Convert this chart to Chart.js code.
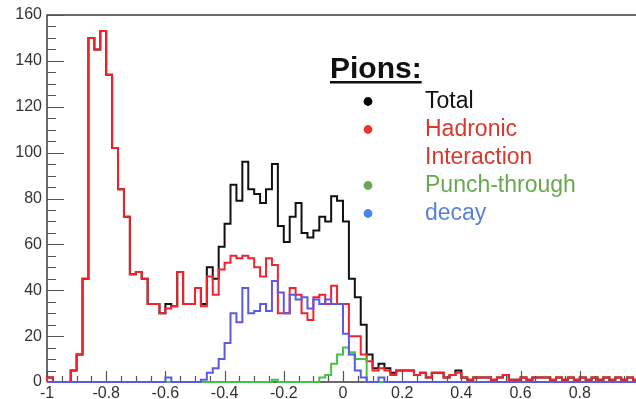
<!DOCTYPE html>
<html>
<head>
<meta charset="utf-8">
<script src="https://cdn.jsdelivr.net/npm/chart.js@4.4.1/dist/chart.umd.min.js"></script>
<style>
  html, body { margin: 0; padding: 0; background: #fff; }
  canvas { display: block; }
</style>
</head>
<body>
<canvas id="chart" width="636" height="399"></canvas>
<script>
// histogram binning: 100 bins from -1 to 1
const binLow = -1;
const binWidth = 0.02;

// bin contents
const total = [
  2, 0, 0, 0, 5, 12, 45, 150, 145, 153,
  134, 102, 84, 72, 47, 48, 45, 34, 34, 30,
  34, 33, 48, 34, 34, 41, 34, 50, 45, 59,
  69, 86, 79, 96, 84, 82, 78, 84, 95, 68,
  61, 72, 78, 65, 63, 66, 72, 70, 81, 79,
  70, 45, 37, 25, 12, 6, 8, 6, 4, 5,
  5, 5, 3, 4, 2, 4, 4, 2, 3, 5,
  2, 1, 2, 2, 2, 1, 2, 3, 1, 1,
  2, 1, 2, 2, 2, 1, 2, 1, 2, 1,
  2, 1, 2, 1, 2, 1, 2, 1, 2, 1
];
const hadronic = [
  2, 0, 0, 0, 5, 12, 45, 150, 145, 153,
  134, 102, 84, 72, 47, 48, 45, 34, 34, 30,
  32, 33, 48, 34, 34, 41, 33, 46, 38, 49,
  52, 55, 54, 55, 54, 50, 46, 54, 51, 30,
  30, 41, 38, 30, 27, 37, 38, 34, 42, 34,
  34, 20, 20, 12, 9, 5, 6, 5, 3, 5,
  5, 5, 3, 4, 2, 4, 4, 2, 3, 4,
  2, 1, 2, 2, 2, 1, 2, 3, 1, 1,
  2, 1, 2, 2, 2, 1, 2, 1, 2, 1,
  2, 1, 2, 1, 2, 1, 2, 1, 2, 1
];
const punchThrough = [
  0, 0, 0, 0, 0, 0, 0, 0, 0, 0,
  0, 0, 0, 0, 0, 0, 0, 0, 0, 0,
  0, 0, 0, 0, 0, 0, 0, 0, 0, 0,
  0, 0, 0, 0, 0, 0, 0, 0, 1, 0,
  0, 0, 0, 0, 0, 0, 2, 3, 8, 12,
  15, 13, 10, 10, 0, 0, 0, 0, 0, 0,
  0, 0, 0, 0, 0, 0, 0, 0, 0, 0,
  0, 0, 0, 0, 0, 0, 0, 0, 0, 0,
  0, 0, 0, 0, 0, 0, 0, 0, 0, 0,
  0, 0, 0, 0, 0, 0, 0, 0, 0, 0
];
const decay = [
  0, 0, 0, 0, 0, 0, 0, 0, 0, 0,
  0, 0, 0, 0, 0, 0, 0, 0, 0, 0,
  2, 0, 0, 0, 0, 0, 1, 4, 6, 10,
  17, 30, 26, 41, 30, 31, 34, 31, 44, 39,
  30, 38, 36, 37, 32, 36, 34, 36, 34, 34,
  21, 12, 5, 2, 0, 0, 2, 0, 0, 0,
  0, 0, 0, 0, 0, 0, 0, 0, 0, 0,
  0, 0, 0, 0, 0, 0, 0, 0, 0, 0,
  0, 0, 0, 0, 0, 0, 0, 0, 0, 0,
  0, 0, 0, 0, 0, 0, 0, 0, 0, 0
];

const xTicks = [-1, -0.8, -0.6, -0.4, -0.2, 0, 0.2, 0.4, 0.6, 0.8];
const yTicks = [0, 20, 40, 60, 80, 100, 120, 140, 160];

const legendTitle = "Pions:";
const legendItems = [
  { label: ["Total"], dot: "#000000", text: "#111111" },
  { label: ["Hadronic", "Interaction"], dot: "#e8352d", text: "#d8392f" },
  { label: ["Punch-through"], dot: "#6aa84f", text: "#6aa84f" },
  { label: ["decay"], dot: "#4a86e8", text: "#5a82d8" },
];

const FONT = '"Liberation Sans", Arial, Helvetica, sans-serif';

// outline of a ROOT-style histogram: one point per bin low edge, closed at both ends
function toSteps(values) {
  const pts = [{ x: binLow, y: 0 }];
  values.forEach((v, i) => pts.push({ x: binLow + i * binWidth, y: v }));
  const hi = binLow + values.length * binWidth;
  pts.push({ x: hi, y: values[values.length - 1] });
  pts.push({ x: hi, y: 0 });
  return pts;
}

function histDataset(label, values, color, order) {
  return {
    label,
    data: toSteps(values),
    borderColor: color,
    borderWidth: 2,
    // horizontal at the previous bin height, then vertical at the next edge
    stepped: "before",
    pointRadius: 0,
    fill: false,
    tension: 0,
    clip: 3,
    order,
  };
}

const frameAndLegend = {
  id: "frameAndLegend",
  beforeDatasetsDraw(chart) {
    const { ctx, chartArea: a, scales } = chart;
    ctx.save();
    ctx.strokeStyle = "#3a3a3a";
    ctx.lineWidth = 1.5;
    ctx.beginPath();
    ctx.moveTo(a.left, a.bottom);
    ctx.lineTo(a.left, a.top);
    ctx.lineTo(a.right, a.top);
    ctx.moveTo(a.left, a.bottom);
    ctx.lineTo(a.right, a.bottom);
    ctx.stroke();

    // ticks inside the frame, major + minor
    ctx.strokeStyle = "#555";
    ctx.lineWidth = 1.2;
    ctx.beginPath();
    for (let v = 0; v <= 160; v += 5) {
      const y = Math.round(scales.y.getPixelForValue(v)) + 0.5;
      const len = v % 20 === 0 ? 17 : 9;
      ctx.moveTo(a.left, y);
      ctx.lineTo(a.left + len, y);
    }
    for (let k = 0; k <= 40; k++) {
      const v = -1 + k * 0.05;
      const x = Math.round(scales.x.getPixelForValue(v)) + 0.5;
      if (x > a.right) break;
      const len = k % 4 === 0 ? 11 : 6;
      ctx.moveTo(x, a.bottom);
      ctx.lineTo(x, a.bottom - len);
    }
    ctx.stroke();
    ctx.restore();
  },
  afterDraw(chart) {
    const { ctx } = chart;
    ctx.save();
    ctx.textBaseline = "alphabetic";
    ctx.textAlign = "left";

    ctx.font = "bold 30px " + FONT;
    ctx.fillStyle = "#111";
    ctx.fillText(legendTitle, 330, 78);
    const w = ctx.measureText(legendTitle).width;
    ctx.fillRect(330, 81, w, 2.5);

    ctx.font = "23px " + FONT;
    let baseline = 108;
    legendItems.forEach(item => {
      ctx.fillStyle = item.dot;
      ctx.beginPath();
      ctx.arc(368, baseline - 6.5, 4.4, 0, Math.PI * 2);
      ctx.fill();
      ctx.fillStyle = item.text;
      item.label.forEach(line => {
        ctx.fillText(line, 425, baseline);
        baseline += 28;
      });
    });
    ctx.restore();
  }
};

new Chart(document.getElementById("chart"), {
  type: "line",
  data: {
    datasets: [
      histDataset("decay", decay, "#5a5ae8", 0),
      histDataset("Punch-through", punchThrough, "#45c245", 1),
      histDataset("Hadronic Interaction", hadronic, "#f2232a", 2),
      histDataset("Total", total, "#111111", 3),
    ],
  },
  options: {
    responsive: false,
    animation: false,
    devicePixelRatio: 1,
    layout: { padding: { top: 15, right: 0, left: 0, bottom: 0 } },
    plugins: {
      legend: { display: false },
      tooltip: { enabled: false },
    },
    scales: {
      x: {
        type: "linear",
        min: -1,
        max: 0.99,
        border: { display: false },
        grid: { display: false, drawTicks: false },
        afterBuildTicks: scale => { scale.ticks = xTicks.map(v => ({ value: v })); },
        afterFit: scale => { scale.height = 17; },
        ticks: {
          padding: 2,
          maxRotation: 0,
          autoSkip: false,
          color: "#333",
          font: { family: FONT, size: 16 },
          callback: v => String(Math.round(v * 10) / 10),
        },
      },
      y: {
        type: "linear",
        min: 0,
        max: 160,
        border: { display: false },
        grid: { display: false, drawTicks: false },
        afterBuildTicks: scale => { scale.ticks = yTicks.map(v => ({ value: v })); },
        afterFit: scale => { scale.width = 47; },
        ticks: {
          padding: 5,
          color: "#333",
          font: { family: FONT, size: 16 },
        },
      },
    },
  },
  plugins: [frameAndLegend],
});
</script>
</body>
</html>
